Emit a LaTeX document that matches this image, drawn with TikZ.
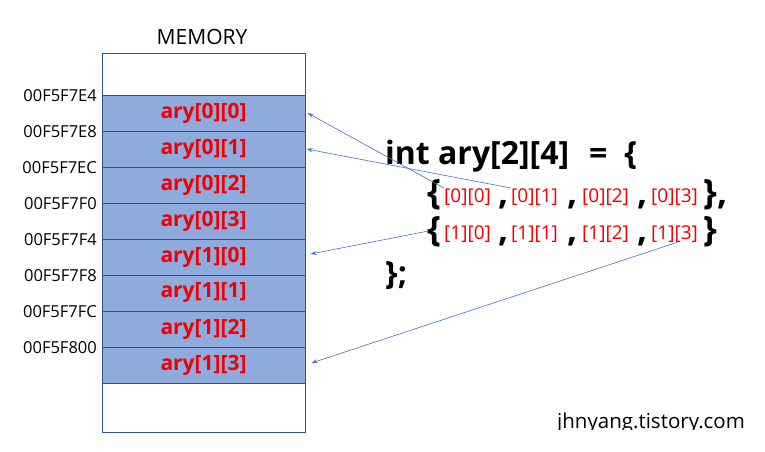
\documentclass[tikz,border=0pt]{standalone}
\usepackage{fontspec}
\setmainfont{Open Sans}
\usetikzlibrary{positioning, arrows.meta}
\definecolor{cellfill}{HTML}{8FAADC}
\definecolor{cellline}{HTML}{2F528F}
\definecolor{ptr}{HTML}{4472C4}
\definecolor{idx}{HTML}{F00000}

\begin{document}
\begin{tikzpicture}[x=1pt, y=-1pt,
  cell/.style = {draw=cellline, line width=1pt, fill=cellfill,
    minimum width=203pt, minimum height=36pt, inner sep=0pt,
    text=idx, font=\fontsize{21}{24}\selectfont\bfseries},
  addr/.style = {anchor=east, inner sep=0pt, font=\fontsize{16.5}{18}\selectfont},
  code/.style = {anchor=base west, inner sep=0pt, font=\fontsize{32}{35}\selectfont\bfseries},
  brace/.style = {code, font=\fontsize{35}{38}\selectfont\bfseries},
  elem/.style = {anchor=base west, inner sep=0pt, text=idx, font=\fontsize{19}{21}\selectfont},
  ptrline/.style = {draw=ptr, line width=0.6pt, -{Stealth[length=6pt, width=4pt]}}]
  \useasboundingbox (0,0) rectangle (765,451);

  \node[font=\fontsize{21}{24}\selectfont] (mem) at (202,37) {MEMORY};
  \draw[cellline, line width=0.8pt] (102,53) rectangle (305,432);

  \foreach \r in {0,1}
    \foreach \c in {0,...,3}
      \node[cell] (c\r\c) at (203.5,{113+36*(4*\r+\c)}) {ary[\r][\c]};

  \foreach \a [count=\i from 0] in {00F5F7E4,00F5F7E8,00F5F7EC,00F5F7F0,
      00F5F7F4,00F5F7F8,00F5F7FC,00F5F800}
    \node[addr] (a\i) at (97,{96+36*\i}) {\a};

  \node[code] (decl) at (385,164) {int ary[2][4]\hspace{20pt}=\hspace{17pt}\{};

  \node[brace] (lb2) at (427,204) {\{};
  \node[elem] (e00) at (444,202) {[0][0]};
  \node[brace] (k00) at (498,204) {,};
  \node[elem] (e01) at (511,202) {[0][1]};
  \node[brace] (k01) at (567,204) {,};
  \node[elem] (e02) at (582,202) {[0][2]};
  \node[brace] (k02) at (637,204) {,};
  \node[elem] (e03) at (651,202) {[0][3]};
  \node[brace] (rb2) at (703,204) {\},};

  \node[brace] (lb3) at (427,241) {\{};
  \node[elem] (e10) at (444,239) {[1][0]};
  \node[brace] (k10) at (498,241) {,};
  \node[elem] (e11) at (511,239) {[1][1]};
  \node[brace] (k11) at (567,241) {,};
  \node[elem] (e12) at (582,239) {[1][2]};
  \node[brace] (k12) at (637,241) {,};
  \node[elem] (e13) at (651,239) {[1][3]};
  \node[brace] (rb3) at (703,241) {\}};

  \node[code] (close) at (385,284) {\};};

  \draw[ptrline] (e00.north west) -- ([xshift=2pt]c00.east);
  \draw[ptrline] (e01.north west) -- ([xshift=1pt]c01.east);
  \draw[ptrline] (lb3.west) -- ([xshift=5pt, yshift=3pt]c10.east);
  \draw[ptrline] ([xshift=3pt]e13.south) -- ([xshift=6pt, yshift=2pt]c13.east);

  \begin{scope}
    \clip (540,395) rectangle (765,429);
    \node[anchor=base west, inner sep=0pt, font=\fontsize{20.5}{22}\selectfont] (site) at (557,428) {jhnyang.tistory.com};
  \end{scope}
\end{tikzpicture}
\end{document}
